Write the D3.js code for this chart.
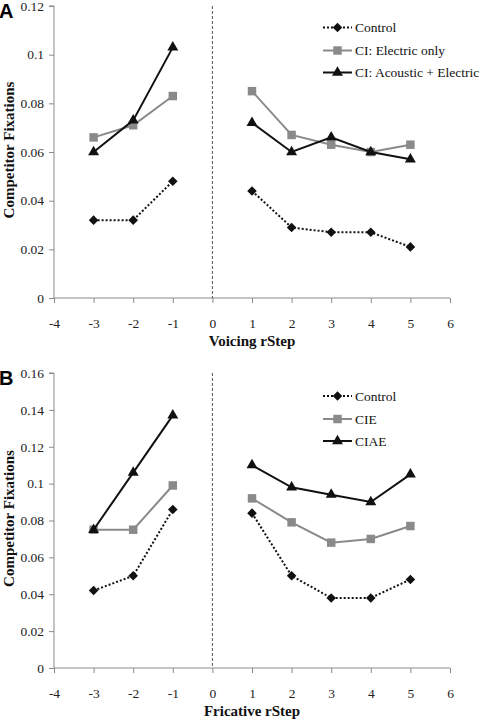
<!DOCTYPE html>
<html>
<head>
<meta charset="utf-8">
<script src="https://cdn.jsdelivr.net/npm/d3@7"></script>
<style>
  html, body { margin: 0; padding: 0; background: #fff; }
  svg { display: block; }
  svg text { font-family: "Liberation Serif", "Times New Roman", serif; }
  svg text.letter { font-family: "Liberation Sans", Arial, sans-serif; }
</style>
</head>
<body>
<svg id="chart" width="483" height="721"></svg>
<script>
// ---- Data ----
const steps = [-3, -2, -1, 1, 2, 3, 4, 5];
const xTicks = [-4, -3, -2, -1, 0, 1, 2, 3, 4, 5, 6];
const yTicksA = [0, 0.02, 0.04, 0.06, 0.08, 0.1, 0.12];
const yTicksB = [0, 0.02, 0.04, 0.06, 0.08, 0.1, 0.12, 0.14, 0.16];
const yTickLabelsA = ["0", "0.02", "0.04", "0.06", "0.08", "0.1", "0.12"];
const yTickLabelsB = ["0", "0.02", "0.04", "0.06", "0.08", "0.1", "0.12", "0.14", "0.16"];

const voicingControl = [0.032, 0.032, 0.048, 0.044, 0.029, 0.027, 0.027, 0.021];
const voicingCIE     = [0.066, 0.071, 0.083, 0.085, 0.067, 0.063, 0.060, 0.063];
const voicingCIAE    = [0.060, 0.073, 0.103, 0.072, 0.060, 0.066, 0.060, 0.057];

const fricControl = [0.042, 0.050, 0.086, 0.084, 0.050, 0.038, 0.038, 0.048];
const fricCIE     = [0.075, 0.075, 0.099, 0.092, 0.079, 0.068, 0.070, 0.077];
const fricCIAE    = [0.075, 0.106, 0.137, 0.110, 0.098, 0.094, 0.090, 0.105];

const legendA = ["Control", "CI: Electric only", "CI: Acoustic + Electric"];
const legendB = ["Control", "CIE", "CIAE"];

// ---- Styles ----
const serif = "'Liberation Serif', 'Times New Roman', serif";
const styles = [
  { color: "#111", dash: "2,2", symbol: "diamond", fill: "#111" },
  { color: "#8a8a8a", dash: null, symbol: "square", fill: "#8a8a8a" },
  { color: "#111", dash: null, symbol: "triangle", fill: "#111" }
];

const svg = d3.select("#chart");

function marker(g, type, x, y) {
  let path, rot = 0;
  if (type === "diamond") { path = d3.symbol(d3.symbolSquare, 46)(); rot = 45; }
  else if (type === "square") { path = d3.symbol(d3.symbolSquare, 72)(); }
  else { path = d3.symbol(d3.symbolTriangle, 52)(); }
  return g.append("path").attr("d", path)
    .attr("transform", `translate(${x},${y}) rotate(${rot})`);
}

function drawPanel(opt) {
  const g = svg.append("g");
  const x = d3.scaleLinear().domain([-4, 6]).range([54, 450]);
  const y = d3.scaleLinear().domain([0, opt.yMax]).range([opt.bottom, opt.top]);

  // panel letter
  g.append("text").attr("class", "letter").attr("x", -1).attr("y", opt.top + 12)
    .attr("font-weight", "bold").attr("font-size", 20).text(opt.letter);

  // y axis
  const yAxis = d3.axisLeft(y).tickValues(opt.yTicks)
    .tickFormat((d, i) => opt.yLabels[i]).tickSize(5).tickPadding(5);
  const ya = g.append("g").attr("transform", `translate(54,0)`).call(yAxis);
  ya.attr("font-family", null).attr("font-size", 13.5);
  ya.selectAll("path, line").attr("stroke", "#8a8a8a");
  ya.select(".domain").attr("d", `M-5,${opt.top}H0V${opt.bottom}`);
  ya.selectAll("text").style("font-family", serif).style("font-size", "13.5px").attr("fill", "#222");

  // x axis
  const xAxis = d3.axisBottom(x).tickValues(xTicks).tickFormat(d => String(d)).tickSize(5).tickPadding(15);
  const xa = g.append("g").attr("transform", `translate(0,${opt.bottom})`).call(xAxis);
  xa.attr("font-family", null).attr("font-size", 13.5);
  xa.selectAll("path, line").attr("stroke", "#8a8a8a");
  xa.select(".domain").attr("d", `M54,0H450`);
  xa.selectAll("text").style("font-family", serif).style("font-size", "13.5px").attr("fill", "#222");

  // vertical dashed line at 0
  g.append("line").attr("x1", x(0)).attr("x2", x(0))
    .attr("y1", opt.top).attr("y2", opt.bottom)
    .attr("stroke", "#555").attr("stroke-width", 1).attr("stroke-dasharray", "3,2");

  // axis titles
  g.append("text").attr("x", 252).attr("y", opt.bottom + 48)
    .attr("text-anchor", "middle")
    .attr("font-weight", "bold").attr("font-size", 15).attr("fill", "#111").text(opt.xTitle);
  g.append("text")
    .attr("transform", `translate(14,${(opt.top + opt.bottom) / 2 - 2}) rotate(-90)`)
    .attr("text-anchor", "middle")
    .attr("font-weight", "bold").attr("font-size", 15).attr("fill", "#111").text("Competitor Fixations");

  const line = d3.line().x(d => x(d[0])).y(d => y(d[1]));

  opt.series.forEach((vals, si) => {
    const st = styles[si];
    const pts = steps.map((s, i) => [s, vals[i]]);
    const left = pts.filter(p => p[0] < 0), right = pts.filter(p => p[0] > 0);
    [left, right].forEach(seg => {
      g.append("path").attr("d", line(seg)).attr("fill", "none")
        .attr("stroke", st.color).attr("stroke-width", 2)
        .attr("stroke-dasharray", st.dash);
    });
    const mg = g.append("g").attr("fill", st.fill);
    pts.forEach(p => marker(mg, st.symbol, x(p[0]), y(p[1])));
  });

  // legend
  opt.legend.forEach((name, i) => {
    const st = styles[i];
    const ly = opt.legendY[i];
    g.append("line").attr("x1", 323).attr("x2", 352).attr("y1", ly).attr("y2", ly)
      .attr("stroke", st.color).attr("stroke-width", 2).attr("stroke-dasharray", st.dash);
    const mg = g.append("g").attr("fill", st.fill);
    marker(mg, st.symbol, 337.5, ly);
    g.append("text").attr("x", 355).attr("y", ly + 4.5)
      .attr("font-size", 13.5).attr("fill", "#111").text(name);
  });
}

drawPanel({
  letter: "A", top: 6, bottom: 298, yMax: 0.12,
  yTicks: yTicksA, yLabels: yTickLabelsA, xTitle: "Voicing rStep",
  series: [voicingControl, voicingCIE, voicingCIAE],
  legend: legendA, legendY: [27.5, 50.5, 72.5]
});

drawPanel({
  letter: "B", top: 373, bottom: 668, yMax: 0.16,
  yTicks: yTicksB, yLabels: yTickLabelsB, xTitle: "Fricative rStep",
  series: [fricControl, fricCIE, fricCIAE],
  legend: legendB, legendY: [396, 419, 441]
});
</script>
</body>
</html>
